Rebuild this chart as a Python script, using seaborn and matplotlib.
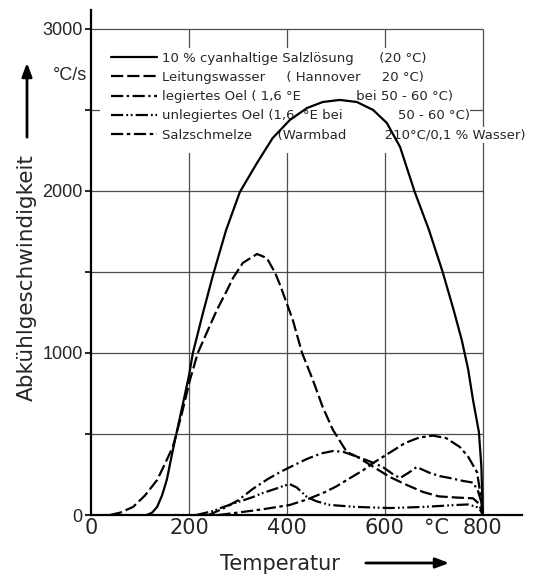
import matplotlib
matplotlib.use("Agg")
import matplotlib.pyplot as plt
import pandas as pd
import seaborn as sns
from matplotlib.patches import Rectangle

# Curves (temperature in °C, cooling rate in °C/s)
brine_t = [114, 125, 135, 145, 155, 165, 176, 190, 200, 208, 228, 249, 276, 304, 339, 371, 406,
           441, 473, 508, 543, 576, 604, 631, 661, 690, 718, 740, 757, 770, 780, 792, 797, 800]
brine_v = [0, 15, 50, 120, 220, 370, 525, 720, 860, 1000, 1240, 1480, 1760, 1994, 2173, 2327, 2438,
           2512, 2549, 2562, 2549, 2500, 2420, 2272, 1994, 1760, 1500, 1270, 1080, 900, 710, 512, 300, 0]

water_t = [39, 60, 86, 110, 135, 150, 167, 185, 202, 218, 237, 257, 278, 290, 310, 339, 359, 376,
           386, 412, 431, 453, 473, 494, 522, 543, 575, 610, 645, 678, 710, 745, 780, 792, 800]
water_v = [0, 15, 50, 120, 216, 310, 420, 620, 833, 1000, 1130, 1265, 1389, 1463, 1556, 1611, 1586, 1494,
           1420, 1204, 1000, 833, 667, 525, 390, 360, 300, 235, 185, 142, 115, 108, 103, 70, 0]

alloy_oil_t = [240, 270, 300, 330, 360, 386, 406, 440, 470, 494, 515, 543, 570, 596, 615, 631,
               648, 665, 690, 712, 733, 760, 780, 790, 797, 800]
alloy_oil_v = [0, 40, 90, 160, 220, 265, 295, 345, 380, 395, 390, 360, 330, 296, 255, 228,
               260, 296, 262, 240, 228, 210, 200, 150, 80, 0]

plain_oil_t = [215, 250, 270, 300, 330, 351, 380, 395, 406, 420, 441, 460, 488, 540, 610, 680,
               747, 770, 788, 796, 800]
plain_oil_v = [0, 25, 49, 80, 110, 136, 165, 182, 190, 170, 111, 85, 62, 50, 43, 50,
               62, 65, 49, 25, 0]

salt_t = [260, 300, 350, 406, 440, 474, 500, 529, 555, 576, 610, 641, 670, 698, 725, 753,
          770, 788, 794, 800]
salt_v = [0, 15, 35, 62, 95, 136, 175, 228, 275, 321, 385, 444, 478, 490, 475, 420,
          360, 265, 154, 0]

labels = [
    "10 % cyanhaltige Salzlösung      (20 °C)",
    "Leitungswasser     ( Hannover     20 °C)",
    "legiertes Oel ( 1,6 °E             bei 50 - 60 °C)",
    "unlegiertes Oel (1,6  °E bei             50 - 60 °C)",
    "Salzschmelze      (Warmbad         210°C/0,1 % Wasser)",
]
series = [(brine_t, brine_v), (water_t, water_v), (alloy_oil_t, alloy_oil_v),
          (plain_oil_t, plain_oil_v), (salt_t, salt_v)]
styles = ["-", (0, (5.5, 1.8)), (0, (5.5, 1.6, 1, 1.6)), (0, (5.5, 1.4, 0.8, 1.2, 0.8, 1.4)),
          (0, (5.5, 1.6, 1.6, 1.6))]

x_ticks = [0, 200, 400, 600, 706, 800]
x_ticklabels = ["0", "200", "400", "600", "°C", "800"]
y_ticks = [0, 500, 1000, 1500, 2000, 2500, 3000]
y_ticklabels = ["0", "", "1000", "", "2000", "", "3000"]
grid_x = [200, 400, 600, 800]
grid_y = [500, 1000, 1500, 2000, 2500, 3000]

sns.set_style("ticks")
plt.rcParams["font.family"] = ["DejaVu Sans"]

W, H = 537, 577
fig = plt.figure(figsize=(W / 100, H / 100), dpi=100)
ax = fig.add_axes([91 / W, 1 - 515 / H, 431 / W, 505 / H])

ax.set_xlim(0, 880)
ax.set_ylim(0, 3117)

ax.hlines(grid_y, 0, 800, color="#4d4d4d", lw=0.9, zorder=1)
ax.vlines(grid_x, 0, 3000, color="#4d4d4d", lw=0.9, zorder=1)
# white area behind the legend text block
ax.add_patch(Rectangle((0.021, 0.717), 0.858, 0.208, transform=ax.transAxes,
                       facecolor="white", edgecolor="none", zorder=1.5))

for (t, v), ls, lab in zip(series, styles, labels):
    df = pd.DataFrame({"T": t, "v": v})
    sns.lineplot(data=df, x="T", y="v", ax=ax, color="black", lw=1.6,
                 linestyle=ls, label=lab, zorder=5, estimator=None, sort=False)

for side in ["top", "right"]:
    ax.spines[side].set_visible(False)
for side in ["left", "bottom"]:
    ax.spines[side].set_linewidth(1.6)
    ax.spines[side].set_color("black")

ax.set_xticks(x_ticks)
ax.set_xticklabels(x_ticklabels, family=["Liberation Sans Narrow", "DejaVu Sans"], fontsize=15)
ax.set_yticks(y_ticks)
ax.set_yticklabels(y_ticklabels, family=["Liberation Sans", "DejaVu Sans"], fontsize=13)
ax.tick_params(axis="x", length=0, pad=2)
ax.tick_params(axis="y", length=4, width=1.2, pad=2, color="black")
ax.set_xlabel("")
ax.set_ylabel("")

leg = ax.legend(loc="upper left", bbox_to_anchor=(99 / W, 1 - 40 / H),
                bbox_transform=fig.transFigure, frameon=False, fontsize=9.5,
                handlelength=3.5, handletextpad=0.4, labelspacing=0.47, borderpad=0.4)
leg.set_zorder(4)
for line in leg.get_lines():
    line.set_linewidth(1.6)
leg.get_texts()[-1].set_bbox(dict(facecolor="white", edgecolor="none", pad=1))

fig.text(70 / W, 1 - 76 / H, "°C/s", ha="center", va="center", fontsize=13,
         family=["Liberation Sans", "DejaVu Sans"])
fig.text(27 / W, 1 - 278 / H, "Abkühlgeschwindigkeit", rotation=90, ha="center",
         va="center", fontsize=15.5)
fig.text(280 / W, 1 - 564 / H, "Temperatur", ha="center", va="center", fontsize=15)

arrow = dict(arrowstyle="-|>,head_length=0.8,head_width=0.3", color="black", lw=2)
ax.annotate("", xy=(27 / W, 1 - 60 / H), xytext=(27 / W, 1 - 140 / H),
            xycoords="figure fraction", textcoords="figure fraction", arrowprops=arrow)
ax.annotate("", xy=(452 / W, 1 - 563 / H), xytext=(363 / W, 1 - 563 / H),
            xycoords="figure fraction", textcoords="figure fraction", arrowprops=arrow)

fig.savefig("out.png", dpi=100, facecolor="white")
